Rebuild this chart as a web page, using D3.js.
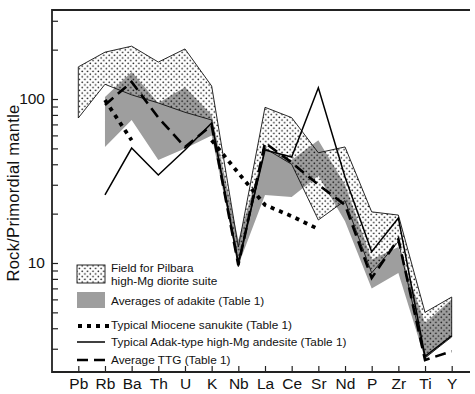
<!DOCTYPE html>
<html>
<head>
<meta charset="utf-8">
<script src="https://cdn.jsdelivr.net/npm/d3@7"></script>
<style>
  body { margin: 0; background: #fff; }
  text { font-family: "Liberation Sans", Arial, sans-serif; fill: #111; }
</style>
</head>
<body>
<div id="chart"></div>
<script>
// elements along the x axis
const elements = ['Pb','Rb','Ba','Th','U','K','Nb','La','Ce','Sr','Nd','P','Zr','Ti','Y'];

// Field for Pilbara high-Mg diorite suite (upper / lower envelope)
const pilbaraUpper = [157, 193, 210, 168, 202, 120, 12.5, 89, 77, 47, 51, 20.5, 19.6, 5.0, 6.2];
const pilbaraLower = [76.6, 123, 106, 94.6, 83, 74.5, 9.5, 50, 40, 18.3, 24, 8.7, 13.5, 2.64, 3.54];

// Averages of adakite (grey field)
const adakiteUpper = [null, 103, 146, 94.6, 118, 80, 13.8, 50, 42.5, 56, 30, 10.5, 12.5, 4.3, 6.0];
const adakiteLower = [null, 51, 74.5, 42.5, 50, 60, 9.7, 26, 25.3, 34, 18, 7, 8.7, 2.6, 3.6];

// lines
const sanukite = [null, 98.6, 56, null, null, 56, 35.4, 22.6, 19.3, 16.1, null, null, null, null, null];
const adak = [null, 26, 50.2, 34.4, 48.9, 71.4, 10.1, 48.9, 44.3, 117, 33.5, 11.7, 18.8, 2.7, 3.6];
const ttg = [null, 92, 127, 77, 51, 69, 9.7, 54, 41, 30, 22.6, 8.1, 14, 2.56, 2.9];

const yTicks = [3, 4, 5, 6, 7, 8, 9, 10, 20, 30, 40, 50, 60, 70, 80, 90, 100, 200, 300];
const yLabels = [10, 100];

const width = 475, height = 394;
const mLeft = 52, mRight = 470, mTop = 10, mBottom = 372;

const svg = d3.select('#chart').append('svg')
    .attr('width', width)
    .attr('height', height);

// dot screen pattern
const defs = svg.append('defs');
const pat = defs.append('pattern')
    .attr('id', 'dots')
    .attr('patternUnits', 'userSpaceOnUse')
    .attr('width', 5.4)
    .attr('height', 5.4);
pat.append('circle').attr('cx', 1.2).attr('cy', 1.2).attr('r', 0.85).attr('fill', '#111');
pat.append('circle').attr('cx', 3.9).attr('cy', 3.9).attr('r', 0.85).attr('fill', '#111');

const x = d3.scalePoint()
    .domain(elements)
    .range([78.3, 451.7]);

const y = d3.scaleLog()
    .domain([2.164, 349])
    .range([mBottom, mTop]);

const rows = elements.map((e, i) => ({
    el: e,
    pu: pilbaraUpper[i], pl: pilbaraLower[i],
    au: adakiteUpper[i], al: adakiteLower[i],
    san: sanukite[i], adak: adak[i], ttg: ttg[i]
}));

const line = key => d3.line()
    .defined(d => d[key] != null)
    .x(d => x(d.el))
    .y(d => y(d[key]));

// grey adakite field
svg.append('path')
    .datum(rows)
    .attr('d', d3.area()
        .defined(d => d.au != null)
        .x(d => x(d.el))
        .y0(d => y(d.al))
        .y1(d => y(d.au)))
    .attr('fill', '#9e9e9e');

// dotted Pilbara field
svg.append('path')
    .datum(rows)
    .attr('d', d3.area()
        .x(d => x(d.el))
        .y0(d => y(d.pl))
        .y1(d => y(d.pu)))
    .attr('fill', 'url(#dots)')
    .attr('stroke', '#111')
    .attr('stroke-width', 0.9);

svg.append('path')
    .datum(rows)
    .attr('d', line('san'))
    .attr('fill', 'none')
    .attr('stroke', '#000')
    .attr('stroke-width', 3.8)
    .attr('stroke-dasharray', '4,5');

svg.append('path')
    .datum(rows)
    .attr('d', line('adak'))
    .attr('fill', 'none')
    .attr('stroke', '#000')
    .attr('stroke-width', 1.5);

svg.append('path')
    .datum(rows)
    .attr('d', line('ttg'))
    .attr('fill', 'none')
    .attr('stroke', '#000')
    .attr('stroke-width', 2.6)
    .attr('stroke-dasharray', '11,6');

// axes
const yAxis = d3.axisLeft(y)
    .tickValues(yTicks)
    .tickFormat(d => yLabels.includes(d) ? d : '')
    .tickSizeInner(-6)
    .tickSizeOuter(0)
    .tickPadding(7);

const gy = svg.append('g')
    .attr('transform', `translate(${mLeft},0)`)
    .call(yAxis);
gy.select('.domain').remove();
gy.selectAll('line').attr('stroke', '#222').attr('stroke-width', 1.2);
gy.selectAll('text').attr('font-size', 15.5).attr('font-family', '"Liberation Sans", Arial, sans-serif');

const xAxis = d3.axisBottom(x)
    .tickSizeInner(-6)
    .tickSizeOuter(0)
    .tickPadding(6);

const gx = svg.append('g')
    .attr('transform', `translate(0,${mBottom})`)
    .call(xAxis);
gx.select('.domain').remove();
gx.selectAll('line').attr('stroke', '#222').attr('stroke-width', 1.2);
gx.selectAll('text').attr('font-size', 15.5).attr('font-family', '"Liberation Sans", Arial, sans-serif');

// frame
svg.append('path')
    .attr('d', `M${mRight},${mTop}H${mLeft}V${mBottom}H${mRight}`)
    .attr('fill', 'none')
    .attr('stroke', '#222')
    .attr('stroke-width', 1.8);

svg.append('text')
    .text('Rock/Primordial mantle')
    .attr('transform', `translate(19,193) rotate(-90)`)
    .attr('text-anchor', 'middle')
    .attr('font-size', 16.5)
    .attr('letter-spacing', 0.3);

// legend
const lg = svg.append('g');
lg.append('rect').attr('x', 77).attr('y', 265).attr('width', 28).attr('height', 18)
    .attr('fill', 'url(#dots)').attr('stroke', '#111').attr('stroke-width', 0.9);
lg.append('rect').attr('x', 77).attr('y', 292).attr('width', 28).attr('height', 16)
    .attr('fill', '#9e9e9e');

const legendText = [
    ['Field for Pilbara', 268],
    ['high-Mg diorite suite', 281],
    ['Averages of adakite (Table 1)', 301],
    ['Typical Miocene sanukite (Table 1)', 325],
    ['Typical Adak-type high-Mg andesite (Table 1)', 342],
    ['Average TTG (Table 1)', 360]
];
lg.selectAll('text.lt')
    .data(legendText)
    .enter().append('text')
    .attr('class', 'lt')
    .attr('x', 111)
    .attr('y', d => d[1])
    .attr('dy', '0.35em')
    .attr('font-size', 11.8)
    .text(d => d[0]);

lg.append('line').attr('x1', 78).attr('x2', 110).attr('y1', 326).attr('y2', 326)
    .attr('stroke', '#000').attr('stroke-width', 3.8).attr('stroke-dasharray', '4,5');
lg.append('line').attr('x1', 77).attr('x2', 105).attr('y1', 342).attr('y2', 342)
    .attr('stroke', '#000').attr('stroke-width', 1.5);
lg.append('line').attr('x1', 77).attr('x2', 105).attr('y1', 360).attr('y2', 360)
    .attr('stroke', '#000').attr('stroke-width', 2.6).attr('stroke-dasharray', '11,6');
</script>
</body>
</html>
